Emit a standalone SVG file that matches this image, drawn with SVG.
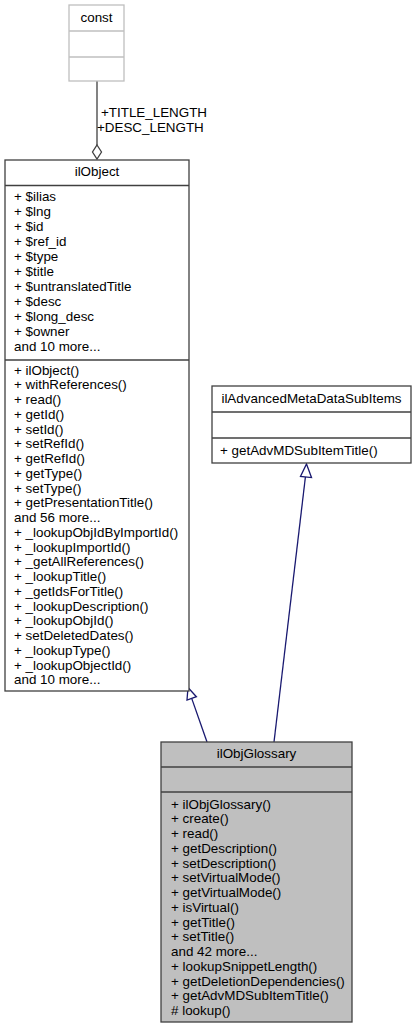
<svg xmlns="http://www.w3.org/2000/svg" width="416" height="1029" viewBox="0 0 416 1029">
<style>
text{font-family:"Liberation Sans",Arial,sans-serif;font-size:13.4px;fill:#000}
.c{text-anchor:middle}
.box{fill:#fff;stroke:#404040;stroke-width:1.3}
.gbox{fill:#bfbfbf;stroke:#404040;stroke-width:1.3}
.cbox{fill:#fff;stroke:#bfbfbf;stroke-width:1.3}
.div{stroke:#404040;stroke-width:1.3}
.cdiv{stroke:#bfbfbf;stroke-width:1.3}
.inh{fill:none;stroke:#191970;stroke-width:1.3}
.agg{fill:none;stroke:#404040;stroke-width:1.3}
</style>
<rect width="416" height="1029" fill="#fff"/>
<g id="connectors">
<line class="agg" x1="97" y1="81" x2="97" y2="145"/>
<polygon class="agg" fill="#fff" points="97,145 101.5,152 97,159 92.5,152"/>
<text x="101" y="116.5">+TITLE_LENGTH</text>
<text x="97" y="131.5">+DESC_LENGTH</text>
<line class="inh" x1="207" y1="742" x2="191.7" y2="698.4"/>
<polygon class="inh" fill="#fff" points="188,687.5 196.4,696.7 187,700"/>
<line class="inh" x1="274" y1="742" x2="305.4" y2="477"/>
<polygon class="inh" fill="#fff" points="306.5,464 311.5,477.6 300.5,476.4"/>
</g>
<g id="const">
<rect class="cbox" x="69" y="5" width="55" height="76"/>
<line class="cdiv" x1="69" y1="31" x2="124" y2="31"/>
<line class="cdiv" x1="69" y1="57" x2="124" y2="57"/>
<text class="c" x="96.5" y="22">const</text>
</g>
<g id="ilObject">
<rect class="box" x="5" y="160" width="184" height="531"/>
<line class="div" x1="5" y1="185.5" x2="189" y2="185.5"/>
<line class="div" x1="5" y1="360" x2="189" y2="360"/>
<text class="c" x="97" y="176">ilObject</text>
<text x="14" y="200.5">+ $ilias</text>
<text x="14" y="215.5">+ $lng</text>
<text x="14" y="230.5">+ $id</text>
<text x="14" y="245.5">+ $ref_id</text>
<text x="14" y="260.5">+ $type</text>
<text x="14" y="275.5">+ $title</text>
<text x="14" y="290.5">+ $untranslatedTitle</text>
<text x="14" y="305.5">+ $desc</text>
<text x="14" y="320.5">+ $long_desc</text>
<text x="14" y="335.5">+ $owner</text>
<text x="14" y="350.5">and 10 more...</text>
<text x="14" y="374.5">+ ilObject()</text>
<text x="14" y="389.25">+ withReferences()</text>
<text x="14" y="404">+ read()</text>
<text x="14" y="418.75">+ getId()</text>
<text x="14" y="433.5">+ setId()</text>
<text x="14" y="448.25">+ setRefId()</text>
<text x="14" y="463">+ getRefId()</text>
<text x="14" y="477.75">+ getType()</text>
<text x="14" y="492.5">+ setType()</text>
<text x="14" y="507.25">+ getPresentationTitle()</text>
<text x="14" y="522">and 56 more...</text>
<text x="14" y="536.75">+ _lookupObjIdByImportId()</text>
<text x="14" y="551.5">+ _lookupImportId()</text>
<text x="14" y="566.25">+ _getAllReferences()</text>
<text x="14" y="581">+ _lookupTitle()</text>
<text x="14" y="595.75">+ _getIdsForTitle()</text>
<text x="14" y="610.5">+ _lookupDescription()</text>
<text x="14" y="625.25">+ _lookupObjId()</text>
<text x="14" y="640">+ setDeletedDates()</text>
<text x="14" y="654.75">+ _lookupType()</text>
<text x="14" y="669.5">+ _lookupObjectId()</text>
<text x="14" y="684.25">and 10 more...</text>
</g>
<g id="ilAdvancedMetaDataSubItems">
<rect class="box" x="212" y="386" width="199" height="77"/>
<line class="div" x1="212" y1="412" x2="411" y2="412"/>
<line class="div" x1="212" y1="438" x2="411" y2="438"/>
<text class="c" x="311.5" y="403">ilAdvancedMetaDataSubItems</text>
<text x="220" y="455">+ getAdvMDSubItemTitle()</text>
</g>
<g id="ilObjGlossary">
<rect class="gbox" x="161" y="742" width="191" height="280"/>
<line class="div" x1="161" y1="767" x2="352" y2="767"/>
<line class="div" x1="161" y1="792" x2="352" y2="792"/>
<text class="c" x="256.5" y="757.5">ilObjGlossary</text>
<text x="171" y="808.5">+ ilObjGlossary()</text>
<text x="171" y="823.25">+ create()</text>
<text x="171" y="838">+ read()</text>
<text x="171" y="852.75">+ getDescription()</text>
<text x="171" y="867.5">+ setDescription()</text>
<text x="171" y="882.25">+ setVirtualMode()</text>
<text x="171" y="897">+ getVirtualMode()</text>
<text x="171" y="911.75">+ isVirtual()</text>
<text x="171" y="926.5">+ getTitle()</text>
<text x="171" y="941.25">+ setTitle()</text>
<text x="171" y="956">and 42 more...</text>
<text x="171" y="970.75">+ lookupSnippetLength()</text>
<text x="171" y="985.5">+ getDeletionDependencies()</text>
<text x="171" y="1000.25">+ getAdvMDSubItemTitle()</text>
<text x="171" y="1015"># lookup()</text>
</g>
</svg>
